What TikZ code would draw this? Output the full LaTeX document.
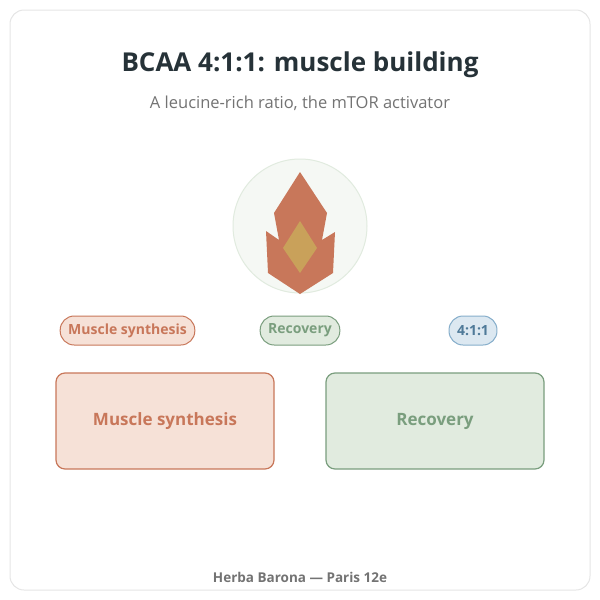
\documentclass[tikz,border=0pt]{standalone}
\usepackage{fontspec}
\setmainfont{Open Sans}
\definecolor{terra}{HTML}{C8775A}
\definecolor{terralight}{HTML}{F6E1D7}
\definecolor{sage}{HTML}{7A9E7E}
\definecolor{sagelight}{HTML}{E1EBDF}
\definecolor{sky}{HTML}{86AECB}
\definecolor{skylight}{HTML}{DCE8F1}
\definecolor{skytext}{HTML}{4F7A99}
\definecolor{ink}{HTML}{263238}
\definecolor{gold}{HTML}{C9A15A}
\definecolor{mist}{HTML}{F5F8F4}
\usetikzlibrary{positioning}
\tikzset{
  pill/.style={rounded corners=14pt, line width=1pt, minimum height=29pt, inner xsep=8pt, font=\fontsize{14}{16}\selectfont\bfseries},
  card/.style={rounded corners=9pt, line width=1.2pt, minimum width=218pt, minimum height=96pt, font=\fontsize{17}{20}\selectfont\bfseries}
}
\begin{document}
\begin{tikzpicture}[x=1pt, y=-1pt]
        \useasboundingbox (0,0) rectangle (600,600);
        % Frame
        \draw[fill=white, draw=black!10, line width=1pt, rounded corners=14pt]
          (10,10) rectangle (590,590);
        % Titles
        \node[font=\fontsize{26}{30}\selectfont\bfseries, text=ink] (title) at (300,65) {BCAA 4:1:1: muscle building};
        \node[font=\fontsize{16.5}{19}\selectfont, text=black!55] (subtitle) at (300,103) {A leucine-rich ratio, the mTOR activator};
        % Icon
        \draw[fill=mist, draw=sagelight, line width=1pt] (300,226) circle (67);
        \fill[terra] (300,172) -- (327,213) -- (322,240) -- (335,232) -- (333,273)
          -- (300,294) -- (268,273) -- (266,231) -- (279,240) -- (274,213) -- cycle;
        \fill[gold] (300,221) -- (317,248) -- (300,273) -- (283,248) -- cycle;
        % Pills
        \node[pill, fill=terralight, draw=terra, text=terra] (pmuscle) at (127.5,330.5) {Muscle synthesis};
        \node[pill, fill=sagelight, draw=sage, text=sage] (precovery) at (300,330.5) {Recovery};
        \node[pill, fill=skylight, draw=sky, text=skytext] (pratio) at (473,330.5) {4:1:1};
        % Cards
        \node[card, fill=terralight, draw=terra, text=terra] (muscle) at (165,421) {Muscle synthesis};
        \node[card, fill=sagelight, draw=sage, text=sage] (recovery) at (435,421) {Recovery};
        % Footer
        \node[font=\fontsize{13.5}{16}\selectfont\bfseries, text=black!55] (footer) at (300,577) {Herba Barona — Paris 12e};
      \end{tikzpicture}
\end{document}
